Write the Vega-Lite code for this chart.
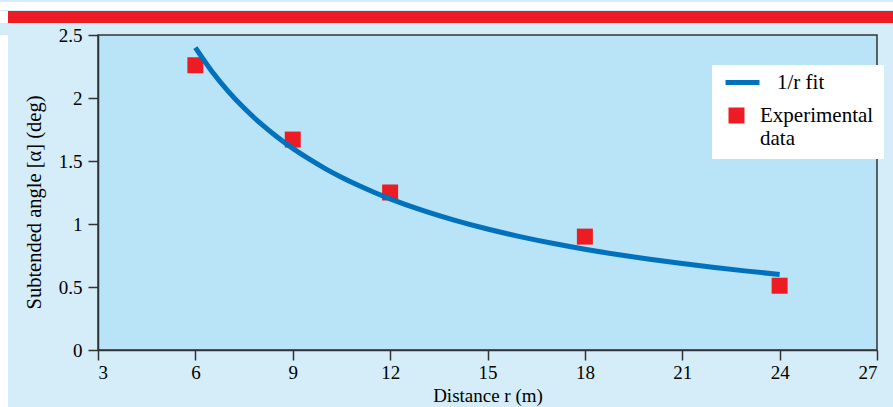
{
  "$schema": "https://vega.github.io/schema/vega-lite/v6.json",
  "background": "#d5ecf9",
  "padding": 0,
  "config": {
    "font": "Liberation Serif",
    "view": {"stroke": null},
    "concat": {"spacing": 0},
    "axis": {
      "labelFont": "Liberation Serif",
      "titleFont": "Liberation Serif",
      "labelFontSize": 19,
      "titleFontSize": 20.5,
      "labelColor": "black",
      "titleColor": "black",
      "titleFontWeight": "normal",
      "domainColor": "#333333",
      "tickColor": "#333333",
      "domainWidth": 1.5,
      "tickWidth": 1.5,
      "tickSize": 10,
      "grid": false
    }
  },
  "vconcat": [
    {
      "width": 893, "height": 8,
      "view": {"fill": "white", "stroke": null},
      "data": {"values": [{}]},
      "mark": {"type": "text", "text": ""}
    },
    {
      "hconcat": [
        {
          "width": 8, "height": 12,
          "view": {"fill": "white", "stroke": null},
          "data": {"values": [{}]},
          "mark": {"type": "text", "text": ""}
        },
        {
          "width": 885, "height": 12,
          "view": {"fill": "#ed1c24", "stroke": null},
          "data": {"values": [{}]},
          "mark": {"type": "text", "text": ""}
        }
      ]
    },
    {
      "spacing": 15,
      "hconcat": [
        {
          "width": 8, "height": 387,
          "view": {"fill": "white", "stroke": null},
          "data": {"values": [{}]},
          "mark": {"type": "text", "text": ""}
        },
        {
          "width": 779, "height": 315,
          "title": {"text": " ", "fontSize": 2, "offset": 0},
          "view": {"fill": "#b9e3f7", "stroke": "#333333", "strokeWidth": 1.5},
          "layer": [
            {
              "data": {"values": [
                {"r": 6, "a": 2.26, "series": "Experimental data"},
                {"r": 9, "a": 1.67, "series": "Experimental data"},
                {"r": 12, "a": 1.25, "series": "Experimental data"},
                {"r": 18, "a": 0.9, "series": "Experimental data"},
                {"r": 24, "a": 0.51, "series": "Experimental data"}
              ]},
              "mark": {"type": "point", "shape": "square", "filled": true, "size": 256, "opacity": 1},
              "encoding": {
                "x": {
                  "field": "r", "type": "quantitative",
                  "scale": {"domain": [3, 27], "nice": false, "zero": false},
                  "axis": {"values": [3, 6, 9, 12, 15, 18, 21, 24, 27], "format": "d", "labelPadding": 3, "titlePadding": 4, "titleFontSize": 19, "title": "Distance r (m)"}
                },
                "y": {
                  "field": "a", "type": "quantitative",
                  "scale": {"domain": [0, 2.5], "nice": false},
                  "axis": {"values": [0, 0.5, 1, 1.5, 2, 2.5], "format": "~g", "labelPadding": 6, "titlePadding": 14, "titleY": 167, "title": "Subtended angle [α] (deg)"}
                },
                "fill": {
                  "field": "series", "type": "nominal",
                  "scale": {"domain": ["Experimental data"], "range": ["#ed1c24"]},
                  "legend": {
                    "title": " ",
                    "titleFontSize": 20,
                    "titlePadding": 10,
                    "orient": "none",
                    "legendX": 712,
                    "legendY": 63,
                    "fillColor": "white",
                    "strokeColor": null,
                    "padding": 10,
                    "symbolType": "square",
                    "symbolSize": 256,
                    "symbolOffset": 4,
                    "symbolStrokeWidth": 0,
                    "labelFont": "Liberation Serif",
                    "labelFontSize": 21,
                    "labelColor": "black",
                    "labelLimit": 400,
                    "labelOffset": 13,
                    "labelBaseline": "middle",
                    "labelExpr": "['Experimental', 'data']"
                  }
                }
              }
            },
            {
              "data": {"values": [
                {"r": 6, "a": 2.4, "series": "1/r fit"},
                {"r": 6.5, "a": 2.215, "series": "1/r fit"},
                {"r": 7, "a": 2.057, "series": "1/r fit"},
                {"r": 7.5, "a": 1.92, "series": "1/r fit"},
                {"r": 8, "a": 1.8, "series": "1/r fit"},
                {"r": 8.5, "a": 1.694, "series": "1/r fit"},
                {"r": 9, "a": 1.6, "series": "1/r fit"},
                {"r": 9.5, "a": 1.516, "series": "1/r fit"},
                {"r": 10, "a": 1.44, "series": "1/r fit"},
                {"r": 10.5, "a": 1.371, "series": "1/r fit"},
                {"r": 11, "a": 1.309, "series": "1/r fit"},
                {"r": 11.5, "a": 1.252, "series": "1/r fit"},
                {"r": 12, "a": 1.2, "series": "1/r fit"},
                {"r": 13, "a": 1.108, "series": "1/r fit"},
                {"r": 14, "a": 1.029, "series": "1/r fit"},
                {"r": 15, "a": 0.96, "series": "1/r fit"},
                {"r": 16, "a": 0.9, "series": "1/r fit"},
                {"r": 17, "a": 0.847, "series": "1/r fit"},
                {"r": 18, "a": 0.8, "series": "1/r fit"},
                {"r": 19, "a": 0.758, "series": "1/r fit"},
                {"r": 20, "a": 0.72, "series": "1/r fit"},
                {"r": 21, "a": 0.686, "series": "1/r fit"},
                {"r": 22, "a": 0.655, "series": "1/r fit"},
                {"r": 23, "a": 0.626, "series": "1/r fit"},
                {"r": 24, "a": 0.6, "series": "1/r fit"}
              ]},
              "mark": {"type": "line", "strokeWidth": 5, "interpolate": "monotone"},
              "encoding": {
                "x": {"field": "r", "type": "quantitative"},
                "y": {"field": "a", "type": "quantitative"},
                "stroke": {
                  "field": "series", "type": "nominal",
                  "scale": {"domain": ["1/r fit"], "range": ["#0071bc"]},
                  "legend": {
                    "title": null,
                    "orient": "none",
                    "legendX": 723,
                    "legendY": 61,
                    "zindex": 2,
                    "padding": 0,
                    "symbolType": "M-1,0H1",
                    "symbolSize": 1156,
                    "symbolStrokeWidth": 5,
                    "labelFont": "Liberation Serif",
                    "labelFontSize": 21,
                    "labelColor": "black",
                    "labelLimit": 400,
                    "labelOffset": 15,
                    "labelBaseline": "middle"
                  }
                }
              }
            }
          ]
        }
      ]
    }
  ]
}
